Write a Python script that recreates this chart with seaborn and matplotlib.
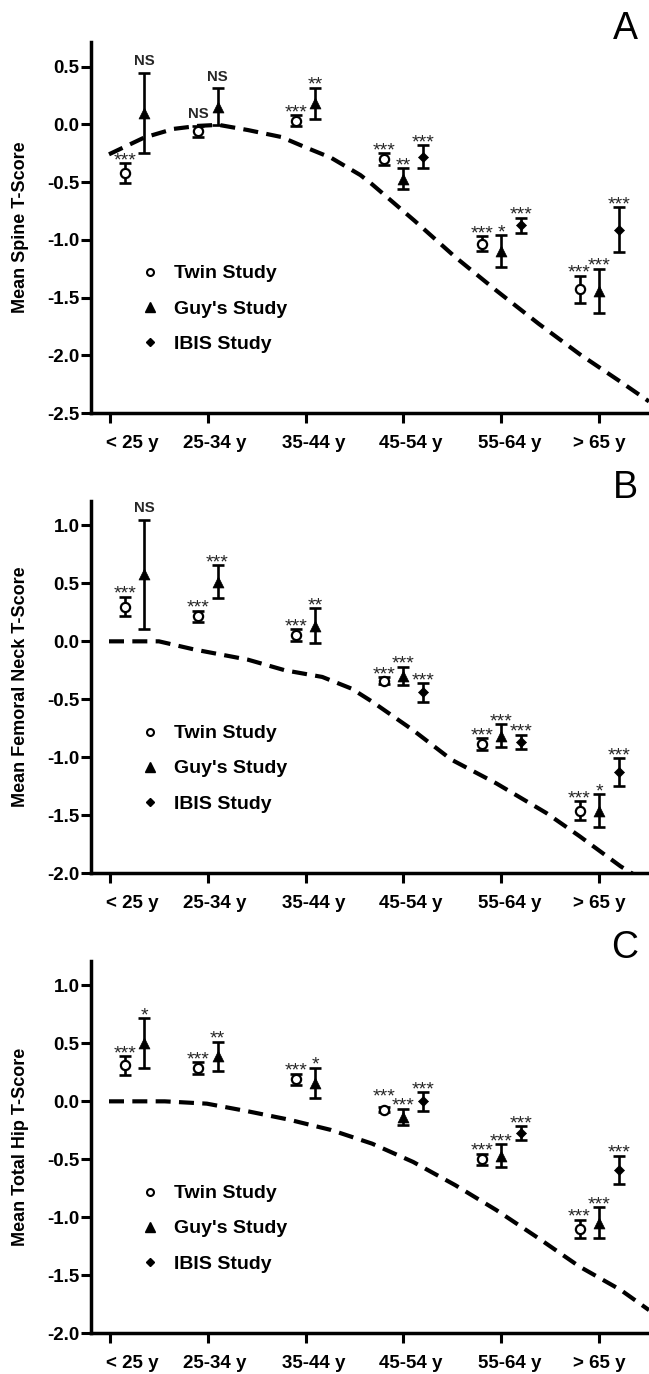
import numpy as np
import pandas as pd
import matplotlib
matplotlib.use("Agg")
import matplotlib.pyplot as plt
import seaborn as sns
from matplotlib.lines import Line2D
from matplotlib.transforms import ScaledTranslation

# ---------------- data ----------------
categories = ["< 25 y", "25-34 y", "35-44 y", "45-54 y", "55-64 y", "> 65 y"]
twin_x = [0.15, 0.9, 1.9, 2.8, 3.8, 4.8]
guy_x = [0.35, 1.1, 2.1, 3.0, 4.0, 5.0]
ibis_x = [3.2, 4.2, 5.2]

# Panel A: spine
spine_twin_mean = [-0.42, -0.06, 0.03, -0.30, -1.035, -1.43]
spine_twin_err = [0.085, 0.046, 0.048, 0.05, 0.065, 0.12]
spine_twin_sig = ["***", "NS", "***", "***", "***", "***"]
spine_guy_mean = [0.10, 0.15, 0.18, -0.47, -1.10, -1.44]
spine_guy_err = [0.347, 0.16, 0.136, 0.09, 0.14, 0.19]
spine_guy_sig = ["NS", "NS", "**", "**", "*", "***"]
spine_ibis_mean = [-0.28, -0.875, -0.915]
spine_ibis_err = [0.10, 0.065, 0.195]
spine_ibis_sig = ["***", "***", "***"]
spine_ref_x = [-0.01, 0.35, 0.65, 0.9, 1.11, 1.41, 1.75, 2.0, 2.26, 2.56, 2.68,
               3.11, 3.53, 3.95, 4.38, 4.8, 5.22, 5.51]
spine_ref_y = [-0.26, -0.115, -0.04, -0.014, -0.005, -0.05, -0.11, -0.20, -0.29,
               -0.44, -0.52, -0.833, -1.15, -1.44, -1.726, -1.99, -2.23, -2.40]

# Panel B: femoral neck
neck_twin_mean = [0.30, 0.215, 0.055, -0.34, -0.885, -1.46]
neck_twin_err = [0.085, 0.05, 0.05, 0.03, 0.05, 0.08]
neck_twin_sig = ["***", "***", "***", "***", "***", "***"]
neck_guy_mean = [0.58, 0.515, 0.135, -0.30, -0.815, -1.46]
neck_guy_err = [0.47, 0.14, 0.15, 0.08, 0.10, 0.14]
neck_guy_sig = ["NS", "***", "**", "***", "***", "*"]
neck_ibis_mean = [-0.44, -0.865, -1.13]
neck_ibis_err = [0.08, 0.06, 0.12]
neck_ibis_sig = ["***", "***", "***"]
neck_ref_x = [-0.01, 0.5, 0.86, 1.41, 1.79, 2.17, 2.47, 2.68, 3.1, 3.49, 3.95,
              4.46, 4.8, 5.22, 5.45]
neck_ref_y = [0.0, 0.0, -0.07, -0.158, -0.25, -0.307, -0.408, -0.52, -0.767,
              -1.02, -1.225, -1.48, -1.68, -1.94, -2.06]

# Panel C: total hip
hip_twin_mean = [0.31, 0.29, 0.19, -0.072, -0.50, -1.10]
hip_twin_err = [0.08, 0.05, 0.05, 0.02, 0.05, 0.08]
hip_twin_sig = ["***", "***", "***", "***", "***", "***"]
hip_guy_mean = [0.50, 0.39, 0.16, -0.135, -0.47, -1.045]
hip_guy_err = [0.215, 0.125, 0.13, 0.07, 0.10, 0.13]
hip_guy_sig = ["*", "**", "*", "***", "***", "***"]
hip_ibis_mean = [0.0, -0.275, -0.59]
hip_ibis_err = [0.08, 0.06, 0.12]
hip_ibis_sig = ["***", "***", "***"]
hip_ref_x = [-0.01, 0.56, 0.99, 1.41, 1.83, 2.26, 2.68, 3.1, 3.53, 3.95, 4.38,
             4.8, 5.22, 5.51]
hip_ref_y = [0.0, 0.0, -0.02, -0.086, -0.158, -0.247, -0.365, -0.523, -0.723,
             -0.938, -1.18, -1.425, -1.626, -1.80]

legend_labels = ["Twin Study", "Guy's Study", "IBIS Study"]

# ---------------- style ----------------
sns.set_theme(style="ticks")
plt.rcParams["font.family"] = ["Liberation Sans", "DejaVu Sans"]
plt.rcParams["axes.unicode_minus"] = False

W, H = 649, 1374
fig = plt.figure(figsize=(W / 100, H / 100), dpi=100)

panels = [
    dict(letter="A", ylabel="Mean Spine T-Score", top=41.7, bottom=413.0,
         ylim=(-2.5, 0.715), yticks=[-2.5, -2.0, -1.5, -1.0, -0.5, 0.0, 0.5],
         twin=(spine_twin_mean, spine_twin_err, spine_twin_sig),
         guy=(spine_guy_mean, spine_guy_err, spine_guy_sig),
         ibis=(spine_ibis_mean, spine_ibis_err, spine_ibis_sig),
         ref=(spine_ref_x, spine_ref_y), letter_y=29),
    dict(letter="B", ylabel="Mean Femoral Neck T-Score", top=501.0, bottom=873.3,
         ylim=(-2.0, 1.21), yticks=[-2.0, -1.5, -1.0, -0.5, 0.0, 0.5, 1.0],
         twin=(neck_twin_mean, neck_twin_err, neck_twin_sig),
         guy=(neck_guy_mean, neck_guy_err, neck_guy_sig),
         ibis=(neck_ibis_mean, neck_ibis_err, neck_ibis_sig),
         ref=(neck_ref_x, neck_ref_y), letter_y=487.5),
    dict(letter="C", ylabel="Mean Total Hip T-Score", top=961.0, bottom=1333.3,
         ylim=(-2.0, 1.21), yticks=[-2.0, -1.5, -1.0, -0.5, 0.0, 0.5, 1.0],
         twin=(hip_twin_mean, hip_twin_err, hip_twin_sig),
         guy=(hip_guy_mean, hip_guy_err, hip_guy_sig),
         ibis=(hip_ibis_mean, hip_ibis_err, hip_ibis_sig),
         ref=(hip_ref_x, hip_ref_y), letter_y=947.5),
]

left_px = 91.0
label_shift_px = [22, 7, 8, 7, 8, 0]
marker_styles = {
    "twin": dict(marker="o", s=44, color="white", edgecolor="black", linewidth=1.6),
    "guy": dict(marker="^", s=62, color="black", edgecolor="black", linewidth=0.5),
    "ibis": dict(marker="D", s=26, color="black", edgecolor="black", linewidth=0.5),
}
xpos = {"twin": twin_x, "guy": guy_x, "ibis": ibis_x}

for p in panels:
    ax = fig.add_axes([left_px / W, 1 - p["bottom"] / H,
                       1 - left_px / W, (p["bottom"] - p["top"]) / H])
    ax.set_facecolor("white")

    # reference (dashed) curve
    ref_df = pd.DataFrame({"x": p["ref"][0], "y": p["ref"][1]})
    sns.lineplot(data=ref_df, x="x", y="y", ax=ax, color="black", linewidth=3.0,
                 sort=False, zorder=2)
    ax.lines[-1].set_dashes([3.6, 2.0])

    for key in ["twin", "guy", "ibis"]:
        mean, err, sig = p[key]
        xs = xpos[key]
        ax.errorbar(xs, mean, yerr=err, fmt="none", ecolor="black",
                    elinewidth=1.9, capsize=4.2, capthick=1.9, zorder=3)
        df = pd.DataFrame({"x": xs, "y": mean})
        sns.scatterplot(data=df, x="x", y="y", ax=ax, zorder=4, legend=False,
                        **marker_styles[key])
        for x, m, e, s in zip(xs, mean, err, sig):
            if s == "NS":
                ax.annotate(s, (x, m + e), xytext=(0, 5.5), textcoords="offset points",
                            ha="center", va="baseline", fontsize=10.7,
                            fontweight="bold", zorder=5)
            else:
                lift = 6.0 if e < 0.025 else 0.0  # no visible bar: clear the marker
                ax.annotate(s, (x, m + e), xytext=(0, -1.5 + lift),
                            textcoords="offset points",
                            ha="center", va="baseline", fontsize=14,
                            fontweight="normal", zorder=5)

    ax.set_xlim(-0.194, 5.51)
    ax.set_ylim(*p["ylim"])
    ax.set_xticks(range(len(categories)))
    ax.set_xticklabels([])
    for i, (cat, sh) in enumerate(zip(categories, label_shift_px)):
        ax.text(i, 0, cat,
                transform=ax.get_xaxis_transform() +
                ScaledTranslation(sh / 100, -35 / 100, fig.dpi_scale_trans),
                ha="center", va="baseline", fontsize=13.5, fontweight="bold",
                color="black", clip_on=False)
    ax.set_yticks(p["yticks"])
    ax.set_yticklabels([f"{v:.1f}" for v in p["yticks"]])
    for lab in ax.get_yticklabels():
        lab.set_fontweight("bold")
        lab.set_fontsize(13.5)
        lab.set_color("black")
    ax.tick_params(axis="x", length=7, width=2.2, color="black", direction="out")
    ax.tick_params(axis="y", length=7.2, width=2.2, pad=1, color="black", direction="out")
    for side in ["top", "right"]:
        ax.spines[side].set_visible(False)
    for side in ["left", "bottom"]:
        ax.spines[side].set_linewidth(2.5)
        ax.spines[side].set_color("black")
    ax.set_xlabel("")
    ax.set_ylabel(p["ylabel"], fontsize=13, fontweight="bold", color="black")
    ax.yaxis.set_label_coords(-0.112, 0.5)

    handles = [
        Line2D([], [], marker="o", ls="none", mfc="white", mec="black", mew=1.5, ms=5),
        Line2D([], [], marker="^", ls="none", mfc="black", mec="black", ms=6.5),
        Line2D([], [], marker="D", ls="none", mfc="black", mec="black", ms=4.5),
    ]
    leg = ax.legend(handles, legend_labels, loc="upper left",
                    bbox_to_anchor=((140 - left_px) / (W - left_px), 0.399),
                    frameon=False, borderpad=0, borderaxespad=0,
                    handlelength=1.0, handletextpad=0.75, labelspacing=0.9,
                    prop={"weight": "bold", "size": 14})
    for t in leg.get_texts():
        t.set_color("black")

    fig.text(625 / W, 1 - p["letter_y"] / H, p["letter"],
             family=["Liberation Sans Narrow", "Liberation Sans"],
             fontsize=27, ha="center", va="center", color="black")

fig.savefig("out.png", dpi=100, facecolor="white")
